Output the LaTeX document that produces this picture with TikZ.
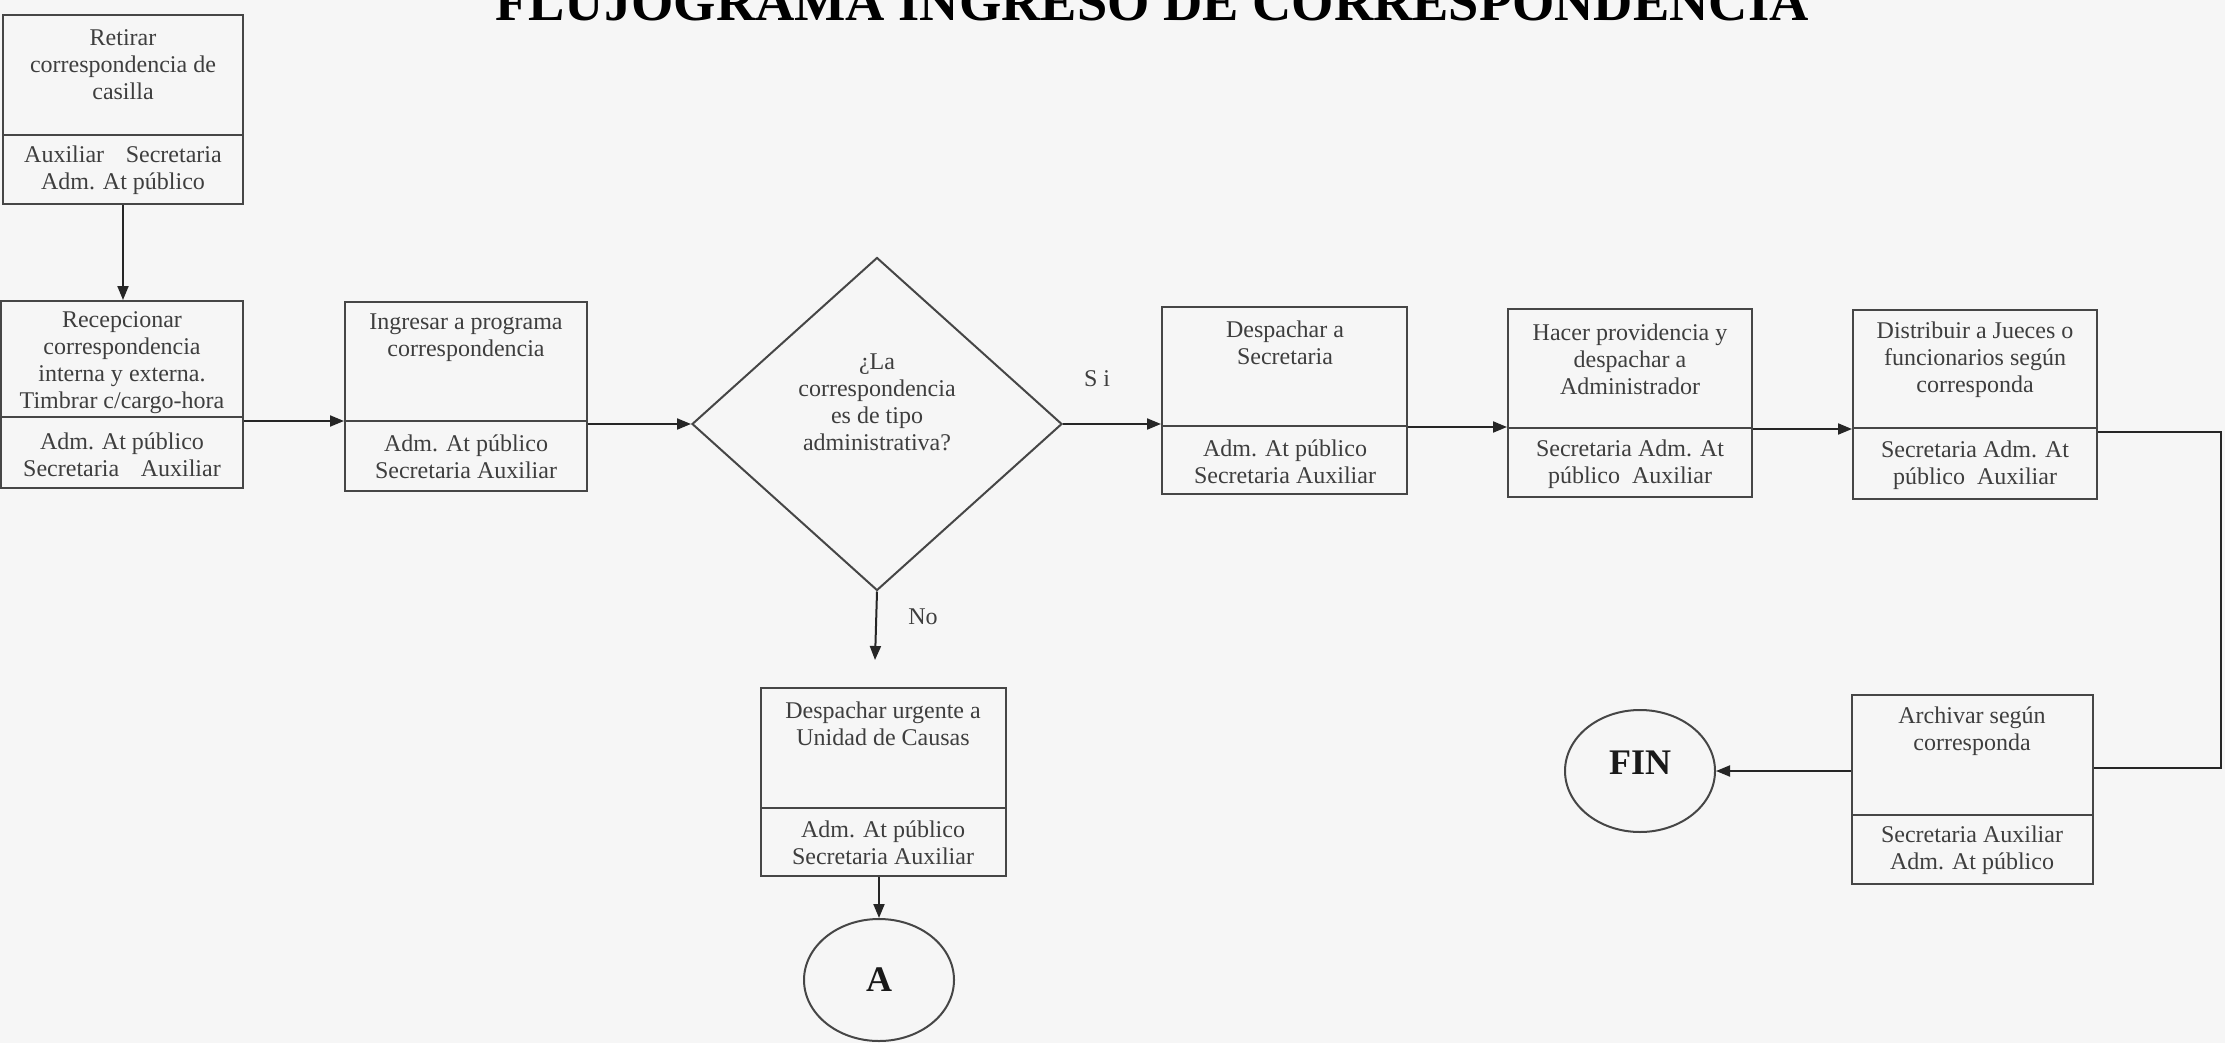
\documentclass[tikz,border=0pt]{standalone}
\usepackage{fontspec}
\setmainfont{Liberation Serif}
\usetikzlibrary{arrows.meta,shapes.geometric,fit}
\definecolor{paper}{RGB}{246,246,246}
\definecolor{ink}{RGB}{62,62,62}
\definecolor{edge}{RGB}{70,70,70}
\begin{document}
\begin{tikzpicture}[x=0.5pt,y=-0.5pt,
  box/.style={draw=edge,line width=1pt,inner sep=0pt},
  divl/.style={draw=edge,line width=1pt},
  txt/.style={text=ink,align=center,font=\fontsize{12}{13.5}\selectfont,inner sep=0pt},
  conn/.style={draw=black!85,line width=1pt},
  arr/.style={conn,-{Triangle[length=7pt,width=5.5pt]}},
  term/.style={ellipse,draw=edge,line width=1pt,minimum width=75pt,minimum height=61pt,inner sep=0pt,text=black!90,font=\bfseries\fontsize{18}{20}\selectfont}
]
\useasboundingbox (0,0) rectangle (2225,1043);
\clip (0,0) rectangle (2225,1043);
\fill[paper] (0,0) rectangle (2225,1043);

% title
\node[anchor=base,inner sep=0pt,font=\bfseries\fontsize{27.2}{30}\selectfont] (title) at (1152,21) {FLUJOGRAMA INGRESO DE CORRESPONDENCIA};

% boxes
\node[box,fit={(3,15) (243,204)}] (b1) {};
\draw[divl] (b1.west |- 0,135) -- (b1.east |- 0,135);
\node[txt] (b1t) at (123,64.5) {Retirar\\correspondencia de\\casilla};
\node[txt] (b1r) at (123,170.5) {Auxiliar\hspace{0.9em}Secretaria\\Adm. At público};

\node[box,fit={(1,301) (243,488)}] (b2) {};
\draw[divl] (b2.west |- 0,417) -- (b2.east |- 0,417);
\node[txt] (b2t) at (122,362.5) {Recepcionar\\correspondencia\\interna y externa.\\Timbrar c/cargo-hora};
\node[txt] (b2r) at (122,454.5) {Adm. At público\\Secretaria\hspace{0.9em}Auxiliar};

\node[box,fit={(345,302) (587,491)}] (b3) {};
\draw[divl] (b3.west |- 0,421) -- (b3.east |- 0,421);
\node[txt] (b3t) at (466,338) {Ingresar a programa\\correspondencia};
\node[txt] (b3r) at (466,456.5) {Adm. At público\\Secretaria Auxiliar};

\node[diamond,draw=edge,line width=1pt,minimum width=185pt,minimum height=166.5pt,inner sep=0pt] (dq) at (877,424) {};
\node[txt] (dqt) at (877,402) {¿La\\correspondencia\\es de tipo\\administrativa?};

\node[box,fit={(1162,307) (1407,494)}] (b4) {};
\draw[divl] (b4.west |- 0,426) -- (b4.east |- 0,426);
\node[txt] (b4t) at (1285,343) {Despachar a\\Secretaria};
\node[txt] (b4r) at (1285,461.5) {Adm. At público\\Secretaria Auxiliar};

\node[box,fit={(1508,309) (1752,497)}] (b5) {};
\draw[divl] (b5.west |- 0,428) -- (b5.east |- 0,428);
\node[txt] (b5t) at (1630,359) {Hacer providencia y\\despachar a\\Administrador};
\node[txt] (b5r) at (1630,464) {Secretaria Adm. At\\público\hspace{0.5em}Auxiliar};

\node[box,fit={(1853,310) (2097,499)}] (b6) {};
\draw[divl] (b6.west |- 0,428) -- (b6.east |- 0,428);
\node[txt] (b6t) at (1975,359.7) {Distribuir a Jueces o\\funcionarios según\\corresponda};
\node[txt] (b6r) at (1975,465.5) {Secretaria Adm. At\\público\hspace{0.5em}Auxiliar};

\node[box,fit={(1852,695) (2093,884)}] (b7) {};
\draw[divl] (b7.west |- 0,815) -- (b7.east |- 0,815);
\node[txt] (b7t) at (1972,731) {Archivar según\\corresponda};
\node[txt] (b7r) at (1972,850.5) {Secretaria Auxiliar\\Adm. At público};

\node[box,fit={(761,688) (1006,876)}] (b8) {};
\draw[divl] (b8.west |- 0,808) -- (b8.east |- 0,808);
\node[txt] (b8t) at (883,723.5) {Despachar urgente a\\Unidad de Causas};
\node[txt] (b8r) at (883,843) {Adm. At público\\Secretaria Auxiliar};

\node[term,text depth=8pt] (fin) at (1640,771) {FIN};
\node[term] (a) at (879,980) {A};

% labels
\node[txt] (si) at (1097,379) {S i};
\node[txt] (no) at (923,617) {No};

% connectors
\draw[arr] (b1.south) -- (b2.north -| b1.south);
\draw[arr] (b2.east |- 0,421) -- (b3.west |- 0,421);
\draw[arr] (b3.east |- dq.west) -- (dq.west);
\draw[arr] (dq.east) -- (b4.west |- dq.east);
\draw[arr] (b4.east |- 0,427) -- (b5.west |- 0,427);
\draw[arr] (b5.east |- 0,429) -- (b6.west |- 0,429);
\coordinate (turn) at (2221,768);
\draw[conn] (b6.east |- 0,432) -| (turn) -- (b7.east |- turn);
\draw[arr] (b7.west |- fin.east) -- (fin.east);
\coordinate (noend) at (875,660);
\draw[arr] (dq.south) -- (noend);
\draw[arr] (b8.south -| a.north) -- (a.north);
\end{tikzpicture}
\end{document}
